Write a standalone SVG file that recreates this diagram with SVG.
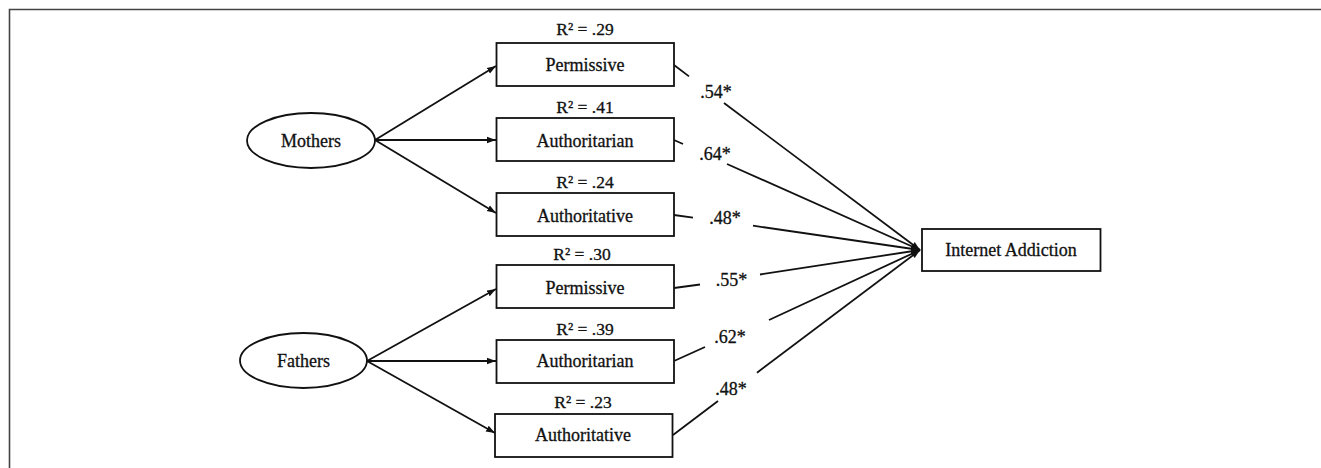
<svg xmlns="http://www.w3.org/2000/svg" width="1321" height="468" viewBox="0 0 1321 468">
<style>
text{font-family:"Liberation Serif","Times New Roman",serif;fill:#111;stroke:#111;stroke-width:0.3;text-anchor:middle}
.lbl{font-size:18px}
.r2{font-size:17.5px}
.box{fill:#fff;stroke:#111;stroke-width:1.8}
.ln{stroke:#111;stroke-width:1.8;fill:none}
.frame{stroke:#444;stroke-width:1.6;fill:none}
</style>
<defs>
<marker id="ah" markerUnits="userSpaceOnUse" markerWidth="10" markerHeight="8" refX="9" refY="4" orient="auto">
<path d="M0,0.8 L9,4 L0,7.2 Z" fill="#111"/>
</marker>
</defs>
<rect width="1321" height="468" fill="#fff"/>
<path class="frame" d="M9.5,468 V9.5 H1321"/>
<g id="connectors">
<line class="ln" x1="375" y1="140" x2="496" y2="66" marker-end="url(#ah)"/>
<line class="ln" x1="375" y1="140" x2="496" y2="140" marker-end="url(#ah)"/>
<line class="ln" x1="375" y1="140" x2="496" y2="213" marker-end="url(#ah)"/>
<line class="ln" x1="367" y1="361" x2="496" y2="289" marker-end="url(#ah)"/>
<line class="ln" x1="367" y1="361" x2="496" y2="361" marker-end="url(#ah)"/>
<line class="ln" x1="367" y1="361" x2="495" y2="433" marker-end="url(#ah)"/>
<line class="ln" x1="674" y1="65" x2="689" y2="76.4"/>
<line class="ln" x1="724" y1="103" x2="920" y2="250" marker-end="url(#ah)"/>
<line class="ln" x1="674" y1="140" x2="683" y2="144"/>
<line class="ln" x1="727" y1="164" x2="920" y2="250" marker-end="url(#ah)"/>
<line class="ln" x1="674" y1="215" x2="693" y2="217.7"/>
<line class="ln" x1="753" y1="225.7" x2="920" y2="250" marker-end="url(#ah)"/>
<line class="ln" x1="674" y1="288" x2="700" y2="284.5"/>
<line class="ln" x1="760" y1="274.5" x2="920" y2="250" marker-end="url(#ah)"/>
<line class="ln" x1="674" y1="361" x2="705" y2="347"/>
<line class="ln" x1="769" y1="320" x2="920" y2="250" marker-end="url(#ah)"/>
<line class="ln" x1="673" y1="435" x2="718" y2="401"/>
<line class="ln" x1="757" y1="372.7" x2="920" y2="250" marker-end="url(#ah)"/>
<text class="lbl" x="716" y="98">.54*</text>
<text class="lbl" x="715" y="160">.64*</text>
<text class="lbl" x="725" y="224">.48*</text>
<text class="lbl" x="731.5" y="285.5">.55*</text>
<text class="lbl" x="730" y="343">.62*</text>
<text class="lbl" x="731" y="395">.48*</text>
</g>
<g id="mothers">
<ellipse class="box" cx="311" cy="140.5" rx="64" ry="27.5"/>
<text class="lbl" x="311" y="146.5">Mothers</text>
</g>
<g id="fathers">
<ellipse class="box" cx="303.5" cy="360.5" rx="63.5" ry="27.5"/>
<text class="lbl" x="303.5" y="366.5">Fathers</text>
</g>
<g id="m-permissive">
<rect class="box" x="496.5" y="43" width="177.5" height="43"/>
<text class="r2" x="585" y="35">R² = .29</text>
<text class="lbl" x="585" y="71">Permissive</text>
</g>
<g id="m-authoritarian">
<rect class="box" x="496.5" y="118" width="177.5" height="43"/>
<text class="r2" x="585" y="112.5">R² = .41</text>
<text class="lbl" x="585" y="147">Authoritarian</text>
</g>
<g id="m-authoritative">
<rect class="box" x="496.5" y="193" width="177.5" height="43"/>
<text class="r2" x="585" y="188">R² = .24</text>
<text class="lbl" x="585" y="222">Authoritative</text>
</g>
<g id="f-permissive">
<rect class="box" x="496.5" y="265" width="177.5" height="43"/>
<text class="r2" x="582" y="260">R² = .30</text>
<text class="lbl" x="585" y="294">Permissive</text>
</g>
<g id="f-authoritarian">
<rect class="box" x="496.5" y="340" width="177.5" height="43"/>
<text class="r2" x="585" y="335">R² = .39</text>
<text class="lbl" x="585" y="367">Authoritarian</text>
</g>
<g id="f-authoritative">
<rect class="box" x="495" y="414" width="177.5" height="43"/>
<text class="r2" x="583" y="408">R² = .23</text>
<text class="lbl" x="583" y="441">Authoritative</text>
</g>
<g id="internet-addiction">
<rect class="box" x="922" y="229" width="178.5" height="42"/>
<text class="lbl" x="1011" y="256">Internet Addiction</text>
</g>
</svg>
